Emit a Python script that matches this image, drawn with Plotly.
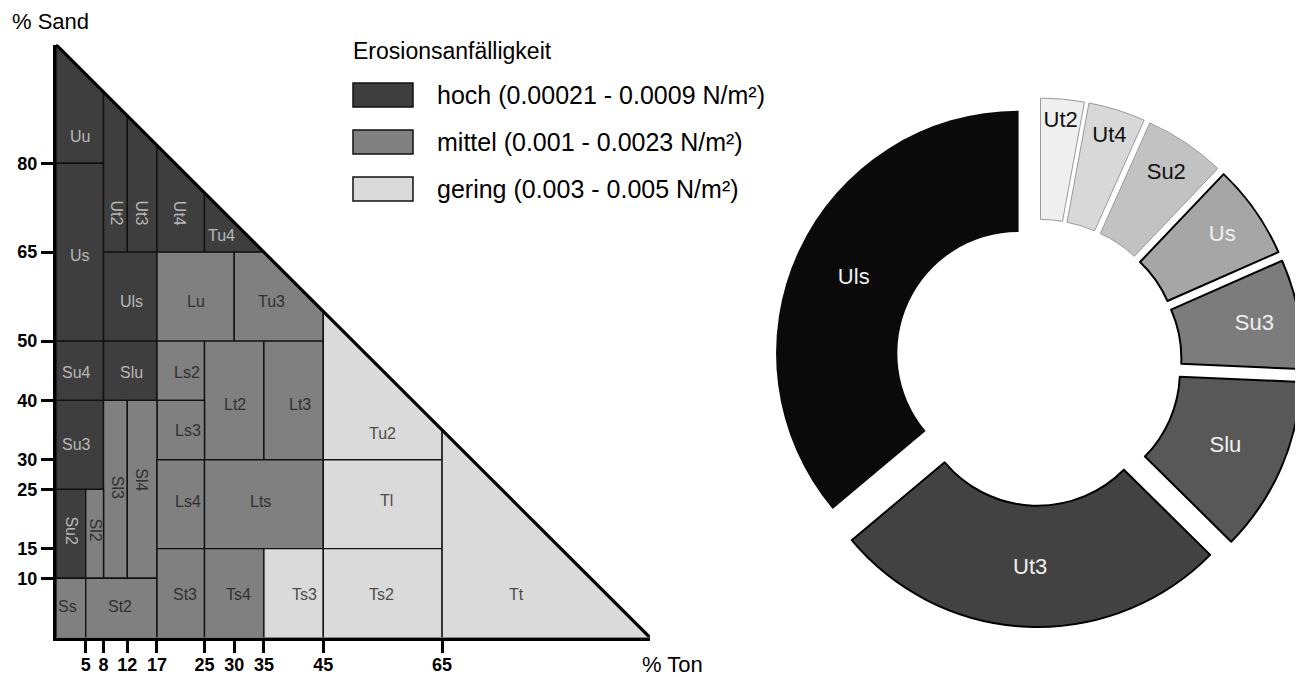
import plotly.graph_objects as go

# ---------------- data: soil texture triangle (left) ----------------
region_names = ["Uu", "Us", "Ut2", "Ut3", "Ut4", "Tu4", "Uls", "Lu", "Tu3",
                "Su4", "Slu", "Ls2", "Lt2", "Lt3", "Su3", "Ls3", "Sl3", "Sl4",
                "Tu2", "Ls4", "Lts", "Tl", "Su2", "Sl2", "Ss", "St2", "St3",
                "Ts4", "Ts3", "Ts2", "Tt"]
ton_min = [0, 0, 8, 12, 17, 25, 8, 17, 30,
           0, 8, 17, 25, 35, 0, 17, 8, 12,
           45, 17, 25, 45, 0, 5, 0, 5, 17,
           25, 35, 45, 65]
ton_max = [8, 8, 12, 17, 25, 35, 17, 30, 45,
           8, 17, 25, 35, 45, 8, 25, 12, 17,
           65, 25, 45, 65, 5, 8, 5, 17, 25,
           35, 45, 65, 100]
sand_min = [80, 50, 65, 65, 65, 65, 50, 50, 50,
            40, 40, 40, 30, 30, 25, 30, 10, 10,
            30, 15, 15, 15, 10, 10, 0, 0, 0,
            0, 0, 0, 0]
sand_max = [100, 80, 100, 100, 100, 100, 65, 65, 65,
            50, 50, 50, 50, 50, 40, 40, 40, 40,
            100, 30, 30, 30, 25, 25, 10, 10, 15,
            15, 15, 15, 100]
erosion_class = ["hoch", "hoch", "hoch", "hoch", "hoch", "hoch", "hoch", "mittel", "mittel",
                 "hoch", "hoch", "mittel", "mittel", "mittel", "hoch", "mittel", "mittel", "mittel",
                 "gering", "mittel", "mittel", "gering", "hoch", "mittel", "mittel", "mittel", "mittel",
                 "mittel", "gering", "gering", "gering"]
# label anchor (in % Ton / % Sand units)
label_ton = [4, 4, 10.2, 14.4, 20.9, 27.9, 12.7, 23.5, 36.2,
             3.4, 12.7, 22, 30.1, 41, 3.4, 22.2, 10.3, 14.4,
             55, 22.2, 34.5, 55.7, 2.6, 6.6, 2, 10.8, 21.7,
             30.7, 41.9, 54.8, 77.6]
label_sand = [84.5, 64.5, 71.6, 71.6, 71.6, 67.8, 56.7, 56.7, 56.7,
              44.7, 44.7, 44.7, 39.3, 39.3, 32.5, 35, 25.4, 26.6,
              34.5, 22.9, 22.9, 23.2, 18, 18.2, 5.2, 5.2, 7.2,
              7.2, 7.2, 7.2, 7.2]
triangle_ton = [0, 100]
triangle_sand = [100, 0]
ton_ticks = [5, 8, 12, 17, 25, 30, 35, 45, 65]
sand_ticks = [10, 15, 25, 30, 40, 50, 65, 80]

legend_classes = ["hoch", "mittel", "gering"]
legend_texts = ["hoch (0.00021 - 0.0009 N/m²)",
                "mittel (0.001 - 0.0023 N/m²)",
                "gering (0.003 - 0.005 N/m²)"]

# ---------------- data: donut (right) ----------------
pie_labels = ["Ut2", "Ut4", "Su2", "Us", "Su3", "Slu", "Ut3", "Uls"]
pie_values = [2.9, 3.8, 5.4, 6.3, 7.3, 11.7, 26.5, 36.1]

# ---------------- styles / layout helpers ----------------
FONT = "Liberation Sans, Arial, sans-serif"
OFF = 8                      # page body margin
FW, FH = 1303 - OFF, 677 - OFF


def sx(px):
    return (px - OFF) / FW


def sy(py):
    return 1 - (py - OFF) / FH


fill_col = {"hoch": "#3e3e3e", "mittel": "#808080", "gering": "#dadada"}
text_col = {"hoch": "#b8b8b8", "mittel": "#303030", "gering": "#4c4c4c"}
vertical_labels = {"Ut2", "Ut3", "Ut4", "Su2", "Sl2", "Sl3", "Sl4"}
pie_colors = ["#efefef", "#d8d8d8", "#c2c2c2", "#a6a6a6", "#7c7c7c", "#585858", "#424242", "#0a0a0a"]
pie_line_colors = ["#9a9a9a", "#9a9a9a", "#9a9a9a", "#000000", "#000000", "#000000", "#000000", "#0a0a0a"]
pie_line_widths = [1, 1, 1, 2, 2, 2, 2, 0]
pie_text_colors = ["#111111", "#111111", "#111111", "#f0f0f0", "#f0f0f0", "#f0f0f0", "#f0f0f0", "#f0f0f0"]


def clip_to_triangle(x0, x1, y0, y1):
    """Clip rectangle to the half-plane x + y <= 100 (Sutherland-Hodgman)."""
    pts = [(x0, y0), (x1, y0), (x1, y1), (x0, y1)]
    out = []
    n = len(pts)
    inside = lambda p: p[0] + p[1] <= 100 + 1e-9
    for i in range(n):
        cur, nxt = pts[i], pts[(i + 1) % n]
        if inside(cur):
            out.append(cur)
        if inside(cur) != inside(nxt):
            fc = cur[0] + cur[1] - 100
            fn = nxt[0] + nxt[1] - 100
            t = fc / (fc - fn)
            out.append((cur[0] + t * (nxt[0] - cur[0]), cur[1] + t * (nxt[1] - cur[1])))
    return out


fig = go.Figure()

for i, name in enumerate(region_names):
    poly = clip_to_triangle(ton_min[i], ton_max[i], sand_min[i], sand_max[i])
    xs = [p[0] for p in poly] + [poly[0][0]]
    ys = [p[1] for p in poly] + [poly[0][1]]
    fig.add_trace(go.Scatter(
        x=xs, y=ys, mode="lines", fill="toself",
        fillcolor=fill_col[erosion_class[i]],
        line=dict(color="#111111", width=1.4),
        hoverinfo="text", hovertext=name, showlegend=False,
        xaxis="x", yaxis="y"))

fig.add_trace(go.Scatter(
    x=triangle_ton, y=triangle_sand, mode="lines",
    line=dict(color="#000000", width=3.2), hoverinfo="skip", showlegend=False))

annotations = []
for i, name in enumerate(region_names):
    annotations.append(dict(
        x=label_ton[i], y=label_sand[i], xref="x", yref="y", text=name,
        showarrow=False, textangle=90 if name in vertical_labels else 0,
        font=dict(family=FONT, size=16, color=text_col[erosion_class[i]])))

# axis titles
annotations.append(dict(x=sx(10), y=sy(22), xref="paper", yref="paper", text="% Sand",
                        showarrow=False, xanchor="left", yanchor="middle",
                        font=dict(family=FONT, size=22, color="#000")))
annotations.append(dict(x=sx(640), y=sy(664), xref="paper", yref="paper", text="% Ton",
                        showarrow=False, xanchor="left", yanchor="middle",
                        font=dict(family=FONT, size=22, color="#000")))

# legend (drawn manually with large swatches)
annotations.append(dict(x=sx(351), y=sy(51), xref="paper", yref="paper",
                        text="Erosionsanfälligkeit", showarrow=False,
                        xanchor="left", yanchor="middle",
                        font=dict(family=FONT, size=23, color="#000")))
shapes = []
for k, cls in enumerate(legend_classes):
    yc = 95 + k * 47
    shapes.append(dict(type="rect", xref="paper", yref="paper",
                       x0=sx(353), x1=sx(413), y0=sy(yc + 12), y1=sy(yc - 12),
                       fillcolor=fill_col[cls], line=dict(color="#111111", width=1.5)))
    annotations.append(dict(x=sx(435), y=sy(yc), xref="paper", yref="paper",
                            text=legend_texts[k], showarrow=False,
                            xanchor="left", yanchor="middle",
                            font=dict(family=FONT, size=25, color="#000")))

# donut
pull_frac = 0.0907
fig.add_trace(go.Pie(
    labels=pie_labels, values=pie_values, sort=False, direction="clockwise",
    rotation=0, hole=0.5, pull=[pull_frac] * len(pie_values),
    marker=dict(colors=pie_colors, line=dict(color=pie_line_colors, width=pie_line_widths)),
    textinfo="label", textposition="inside", insidetextorientation="horizontal",
    insidetextfont=dict(family=FONT, size=22, color=pie_text_colors),
    domain=dict(x=[sx(774), 1.0], y=[sy(630), sy(95)]),
    showlegend=False, hoverinfo="label+value"))

tickfont = dict(family=FONT, size=18, color="#000", weight="bold")
fig.update_layout(
    width=FW, height=FH, autosize=False,
    margin=dict(l=0, r=0, t=0, b=0, pad=0),
    paper_bgcolor="white", plot_bgcolor="white",
    showlegend=False,
    uniformtext=dict(minsize=22, mode="show"),
    xaxis=dict(domain=[sx(56), sx(650)], range=[0, 100], tickmode="array",
               tickvals=ton_ticks, ticktext=[str(v) for v in ton_ticks],
               ticks="outside", ticklen=12, tickwidth=2.5, tickcolor="#000",
               ticklabelstandoff=-3,
               showline=True, linewidth=3, linecolor="#000", showgrid=False,
               zeroline=False, tickfont=tickfont, automargin=False, fixedrange=True),
    yaxis=dict(domain=[sy(637.6), sy(44.6)], range=[0, 100], tickmode="array",
               tickvals=sand_ticks, ticktext=[str(v) for v in sand_ticks],
               ticks="outside", ticklen=12, tickwidth=2.5, tickcolor="#000",
               showline=True, linewidth=3, linecolor="#000", showgrid=False,
               zeroline=False, tickfont=tickfont, automargin=False, fixedrange=True),
    annotations=annotations, shapes=shapes,
)

fig.write_html("out.html")
